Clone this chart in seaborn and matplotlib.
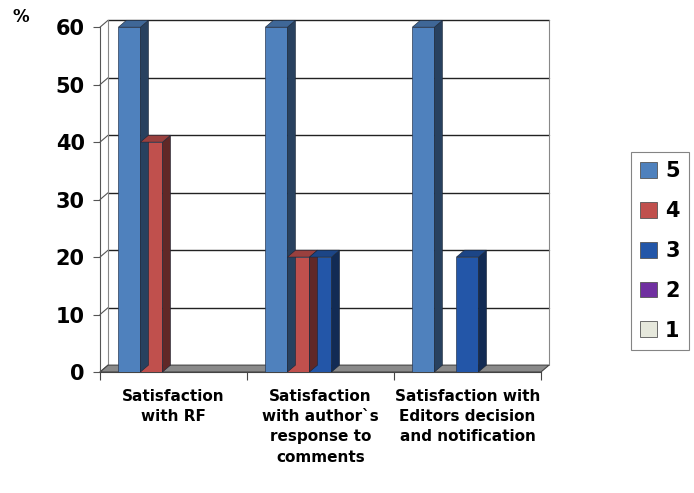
# Satisfaction survey - 3D-style grouped bars
import pandas as pd
import matplotlib
matplotlib.use('Agg')
import matplotlib.pyplot as plt
import seaborn as sns
from matplotlib.patches import Polygon, Patch
from matplotlib.colors import to_rgb

# データ
categories = ['Satisfaction\nwith RF',
              'Satisfaction\nwith author`s\nresponse to\ncomments',
              'Satisfaction with\nEditors decision\nand notification']
scores = ['5', '4', '3', '2', '1']
vals_5 = [60, 60, 60]
vals_4 = [40, 20, 0]
vals_3 = [0, 20, 20]
vals_2 = [0, 0, 0]
vals_1 = [0, 0, 0]
yticks = [0, 10, 20, 30, 40, 50, 60]

colors = ['#4f81bd', '#c0504d', '#2356a8', '#7030a0', '#e6e8dc']

rows = []
for s, vals in zip(scores, [vals_5, vals_4, vals_3, vals_2, vals_1]):
    for c, v in zip(categories, vals):
        rows.append({'category': c, 'score': s, 'value': v})
df = pd.DataFrame(rows)

sns.set_style('white')
plt.rcParams['font.family'] = ['DejaVu Sans']
plt.rcParams['font.weight'] = 'bold'
plt.rcParams['text.color'] = 'black'
plt.rcParams['xtick.color'] = 'black'
plt.rcParams['ytick.color'] = 'black'
plt.rcParams['axes.labelcolor'] = 'black'

fig = plt.figure(figsize=(6.94, 4.93), dpi=100)
ax = fig.add_axes([0.1441, 0.2454, 0.647, 0.717])

sns.barplot(data=df, x='category', y='value', hue='score', hue_order=scores,
            palette=colors, width=0.75, saturation=1, edgecolor='#2a3a55',
            linewidth=0.5, legend=False, ax=ax, zorder=3)

dx, dy = 0.055, 1.2

def shade(c, f):
    r, g, b = to_rgb(c)
    return (r * f, g * f, b * f)

# 奥行き（側面・上面）
bars = [p for p in ax.patches]
for p in bars:
    h = p.get_height()
    if h <= 0:
        continue
    x0 = p.get_x()
    x1 = x0 + p.get_width()
    fc = p.get_facecolor()
    side = Polygon([(x1, 0), (x1 + dx, dy), (x1 + dx, h + dy), (x1, h)],
                   closed=True, facecolor=shade(fc, 0.5), edgecolor='#1a2535',
                   linewidth=0.4, zorder=3)
    top = Polygon([(x0, h), (x0 + dx, h + dy), (x1 + dx, h + dy), (x1, h)],
                  closed=True, facecolor=shade(fc, 0.8), edgecolor='#1a2535',
                  linewidth=0.4, zorder=3)
    ax.add_patch(side)
    ax.add_patch(top)

# 床と背面
x_left, x_right = -0.5, 2.5
floor = Polygon([(x_left, 0), (x_right, 0), (x_right + dx, dy), (x_left + dx, dy)],
                closed=True, facecolor='#8a8a8a', edgecolor='#444444',
                linewidth=0.8, zorder=2, clip_on=False)
ax.add_patch(floor)
for y in yticks[1:]:
    ax.plot([x_left + dx, x_right + dx], [y + dy, y + dy], color='#222222',
            lw=1.0, zorder=1, clip_on=False)
for y in yticks:
    ax.plot([x_left, x_left + dx], [y, y + dy], color='#555555', lw=0.8,
            zorder=1, clip_on=False)
ax.plot([x_left + dx, x_left + dx], [dy, 60 + dy], color='#888888', lw=0.8,
        zorder=1, clip_on=False)
ax.plot([x_right + dx, x_right + dx], [dy, 60 + dy], color='#888888', lw=0.8,
        zorder=1, clip_on=False)

ax.set_xlim(x_left, x_right + dx)
ax.set_ylim(0, 61.5)

for s in ['top', 'right']:
    ax.spines[s].set_visible(False)
ax.spines['left'].set_bounds(0, 60)
ax.spines['left'].set_color('#555555')
ax.spines['bottom'].set_bounds(x_left, x_right)
ax.spines['bottom'].set_color('#444444')

ax.set_yticks(yticks)
ax.set_yticklabels([str(t) for t in yticks], fontsize=15, fontweight='bold')
ax.tick_params(axis='y', length=5, width=0.8, color='#555555', pad=6, left=True)

ax.set_xticks([0, 1, 2])
ax.set_xticklabels(categories, fontsize=11, fontweight='bold', linespacing=1.45)
ax.set_xticks([-0.5, 0.5, 1.5, 2.5], minor=True)
ax.tick_params(axis='x', which='major', length=0, pad=12)
ax.tick_params(axis='x', which='minor', length=6, width=0.8, color='#444444',
               bottom=True)
ax.set_xlabel('')
ax.set_ylabel('')

fig.text(0.018, 0.965, '%', fontsize=12, fontweight='bold', va='center')

handles = [Patch(facecolor=c, edgecolor='#555555', linewidth=0.6) for c in colors]
leg = fig.legend(handles, scores, loc='center', bbox_to_anchor=(0.951, 0.491),
                 prop={'size': 15, 'weight': 'bold'}, frameon=True, fancybox=False,
                 edgecolor='#666666', handlelength=0.8, handleheight=0.8,
                 labelspacing=0.95, handletextpad=0.4, borderpad=0.45)
leg.get_frame().set_linewidth(0.8)

fig.savefig('out.png', dpi=100)
